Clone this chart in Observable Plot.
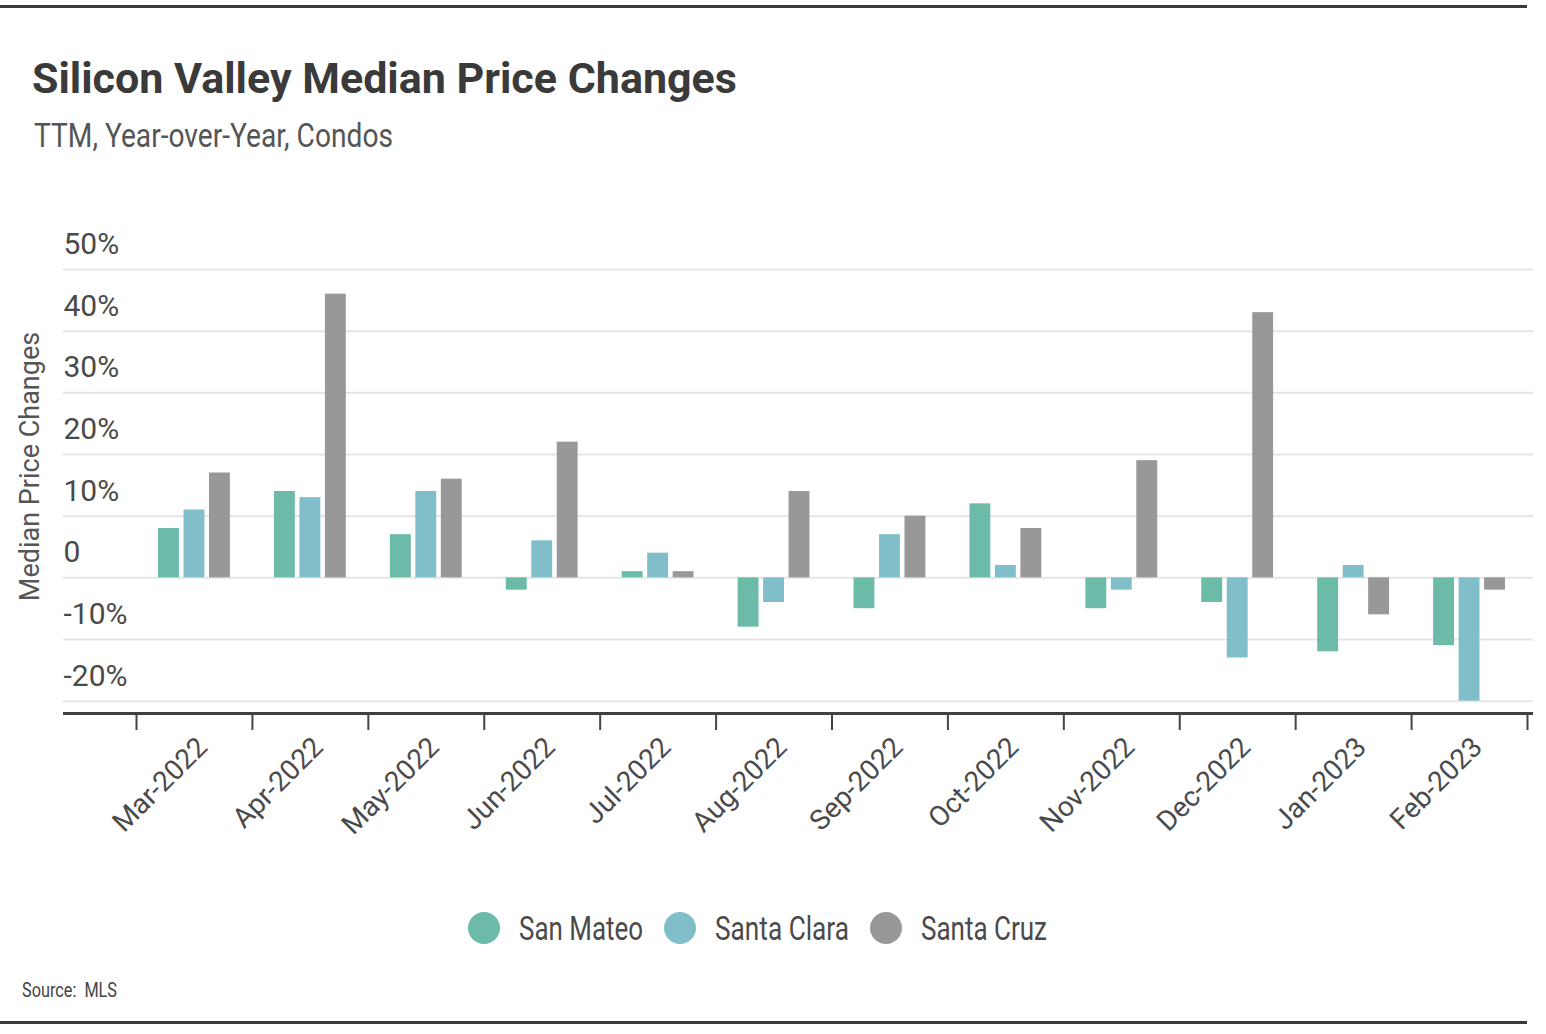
<!DOCTYPE html>
<html>
<head>
<meta charset="utf-8">
<script src="https://cdn.jsdelivr.net/npm/d3@7"></script>
<script src="https://cdn.jsdelivr.net/npm/@observablehq/plot@0.6"></script>
<style>
  body { margin: 0; background: #fff; }
  #page { position: relative; width: 1546px; height: 1034px; overflow: hidden;
          font-family: "Roboto", "Liberation Sans", sans-serif; }
  .hr { position: absolute; left: 0; width: 1527px; height: 3px; background: #3a3a3a; }
  .sx { display: inline-block; transform-origin: left center; white-space: nowrap; }
  #title { position: absolute; left: 32px; top: 57px; font-size: 43px; line-height: 1; font-weight: bold;
           color: #3a3a3a; white-space: nowrap; }
  #subtitle { position: absolute; left: 34px; top: 118px; font-size: 34px; line-height: 1; color: #555; }
  #chart { position: absolute; left: 0; top: 200px; }
  #legend { position: absolute; left: 0; top: 911px; width: 1514px; display: flex; justify-content: center;
            align-items: center; font-size: 34px; color: #4a4a4a; line-height: 1; }
  .item { display: flex; align-items: center; }
  .dot { width: 32px; height: 32px; border-radius: 50%; margin-right: 19px; flex: none; }
  #source { position: absolute; left: 22px; top: 980px; font-size: 21px; line-height: 1; color: #444; }
</style>
</head>
<body>
<div id="page">
  <div class="hr" style="top:5px"></div>
  <div id="title">Silicon Valley Median Price Changes</div>
  <div id="subtitle"><span class="sx" data-w="359">TTM, Year-over-Year, Condos</span></div>
  <div id="chart"></div>
  <div id="legend"></div>
  <div id="source"><span class="sx" data-w="95">Source:&nbsp; MLS</span></div>
  <div class="hr" style="top:1021px"></div>
</div>
<script>
const months = ["Mar-2022","Apr-2022","May-2022","Jun-2022","Jul-2022","Aug-2022",
                "Sep-2022","Oct-2022","Nov-2022","Dec-2022","Jan-2023","Feb-2023"];
const series = ["San Mateo","Santa Clara","Santa Cruz"];
const colors = ["#6cbba9","#80bfca","#989898"];
const sanMateo   = [8, 14, 7, -2, 1, -8, -5, 12, -5, -4, -12, -11];
const santaClara = [11, 13, 14, 6, 4, -4, 7, 2, -2, -13, 2, -20];
const santaCruz  = [17, 46, 16, 22, 1, 14, 10, 8, 19, 43, -6, -2];
const yTicks      = [-20, -10, 0, 10, 20, 30, 40, 50];
const yTickLabels = ["-20%", "-10%", "0", "10%", "20%", "30%", "40%", "50%"];
const yDomain = [-22, 50];

const values = [sanMateo, santaClara, santaCruz];
const data = [];
series.forEach((s, si) => months.forEach((m, mi) => data.push({month: m, series: s, value: values[si][mi]})));

const W = 1546, H = 660, mL = 63, mR = 13, mT = 69, mB = 147;
const xRange = [136, 1527];
const bw = (xRange[1] - xRange[0]) / months.length;
const inner = d3.scaleBand().domain(series).range([0, bw]).paddingInner(0.18).paddingOuter(0.865);
const fontFamily = '"Roboto", "Liberation Sans", sans-serif';

const barMarks = series.map((s, i) => Plot.barY(data.filter(d => d.series === s), {
  x: "month", y1: 0, y2: "value", fill: colors[i],
  insetLeft: inner(s), insetRight: bw - inner(s) - inner.bandwidth()
}));

const chart = Plot.plot({
  width: W, height: H,
  marginLeft: mL, marginRight: mR, marginTop: mT, marginBottom: mB,
  style: {fontFamily, background: "transparent", color: "#4a4a4a"},
  x: {type: "band", domain: months, range: xRange, padding: 0, round: false, label: null},
  y: {domain: yDomain, axis: null, label: null},
  marks: [
    Plot.ruleY(yTicks, {stroke: "#e5e5e5", strokeWidth: 2}),
    ...barMarks,
    Plot.ruleY([yDomain[0]], {stroke: "#404040", strokeWidth: 3}),
    Plot.text(yTicks, {y: d => d, text: (d, i) => yTickLabels[i], frameAnchor: "left",
      textAnchor: "start", dy: -25, fontSize: 30, fill: "#4a4a4a"}),
    Plot.axisX(months, {tickSize: 17, text: null, dx: -bw / 2, stroke: "#444", strokeWidth: 2}),
    Plot.axisX([months[months.length - 1]], {tickSize: 17, text: null, dx: bw / 2, stroke: "#444", strokeWidth: 2}),
    Plot.axisX({tickSize: 0, tickPadding: 29, tickRotate: -45, fontSize: 28, dx: 8, fill: "#4a4a4a", label: null}),
    Plot.text(["Median Price Changes"], {frameAnchor: "left", textAnchor: "middle", rotate: -90,
      dx: -33, dy: -25, fontSize: 27, fill: "#555"})
  ]
});
document.getElementById("chart").appendChild(chart);

const legend = document.getElementById("legend");
const legendWidths = [124, 134, 126];
series.forEach((s, i) => {
  const item = document.createElement("div");
  item.className = "item";
  if (i > 0) item.style.marginLeft = "21px";
  const dot = document.createElement("span");
  dot.className = "dot";
  dot.style.background = colors[i];
  const lab = document.createElement("span");
  lab.className = "sx";
  lab.dataset.w = legendWidths[i];
  lab.textContent = s;
  item.appendChild(dot); item.appendChild(lab);
  legend.appendChild(item);
});

// condense HTML texts horizontally to the reference's narrow typeface widths
document.querySelectorAll(".sx").forEach(el => {
  const w = el.getBoundingClientRect().width;
  const target = +el.dataset.w;
  const k = target / w;
  el.style.transform = `scaleX(${k})`;
  el.style.marginRight = `${target - w}px`;
});
</script>
</body>
</html>
